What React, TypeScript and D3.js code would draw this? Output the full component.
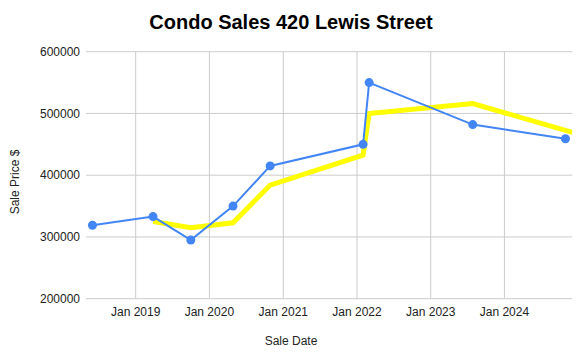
import React from "react";
import * as d3 from "d3";

const saleDates = ["2018-06-01", "2019-03-28", "2019-10-01", "2020-04-27", "2020-10-28", "2022-01-31", "2022-03-02", "2023-07-28", "2024-10-29"];
const salePrices = [319000, 333000, 295000, 350000, 415000, 450000, 550000, 482000, 459000];
const trendDates = ["2019-03-28", "2019-10-01", "2020-04-27", "2020-10-28", "2022-01-31", "2022-03-02", "2023-07-28", "2024-12-02"];
const trendValues = [325000, 315000, 323000, 384000, 432500, 500000, 516000, 469500];
const yTicks = [200000, 300000, 400000, 500000, 600000];
const xTickDates = ["2019-01-01", "2020-01-01", "2021-01-01", "2022-01-01", "2023-01-01", "2024-01-01"];
const xTickLabels = ["Jan 2019", "Jan 2020", "Jan 2021", "Jan 2022", "Jan 2023", "Jan 2024"];
const xDomain = ["2018-04-30", "2024-12-02"];
const yDomain = [200000, 600000];

const W = 586, H = 355;
const L = 86, R = 572.3, T = 51.7, B = 298.7;
const FONT = "Arial, 'Liberation Sans', sans-serif";

export default function App() {
  const parse = (s: string) => new Date(s + "T00:00:00Z");
  const x = d3.scaleUtc().domain(xDomain.map(parse)).range([L, R]);
  const y = d3.scaleLinear().domain(yDomain).range([B, T]);

  const pts = saleDates.map((d, i) => ({ x: x(parse(d)), y: y(salePrices[i]) }));
  const tpts = trendDates.map((d, i) => ({ x: x(parse(d)), y: y(trendValues[i]) }));
  const line = d3.line<{ x: number; y: number }>().x(p => p.x).y(p => p.y);

  return (
    <svg width={W} height={H} style={{ position: "absolute", left: 0, top: 0, background: "#fff" }} fontFamily={FONT}>
      <defs>
        <clipPath id="plot">
          <rect x={L} y={T - 10} width={R - L} height={B - T + 20} />
        </clipPath>
      </defs>
      <text x={291} y={29} textAnchor="middle" fontSize={20} fontWeight="bold" fill="#000">Condo Sales 420 Lewis Street</text>
      {yTicks.map(v => (
        <g key={v}>
          <line x1={L} x2={R} y1={y(v)} y2={y(v)} stroke="#cccccc" strokeWidth={1} />
          <text x={80} y={y(v)} dy="0.35em" textAnchor="end" fontSize={12} fill="#222">{v}</text>
        </g>
      ))}
      {xTickDates.map((d, i) => (
        <g key={d}>
          <line x1={x(parse(d))} x2={x(parse(d))} y1={T} y2={B} stroke="#cccccc" strokeWidth={1} />
          <text x={x(parse(d))} y={316} textAnchor="middle" fontSize={12} fill="#222">{xTickLabels[i]}</text>
        </g>
      ))}
      <text x={291} y={345} textAnchor="middle" fontSize={12} fill="#222">Sale Date</text>
      <text transform={`translate(18.5,182) rotate(-90)`} textAnchor="middle" fontSize={12} fill="#222">Sale Price $</text>
      <g clipPath="url(#plot)">
        <path d={line(tpts) || ""} fill="none" stroke="#ffff00" strokeWidth={5} strokeLinejoin="miter" />
        <path d={line(pts) || ""} fill="none" stroke="#4285f4" strokeWidth={2} />
        {pts.map((p, i) => (
          <circle key={i} cx={p.x} cy={p.y} r={4.5} fill="#4285f4" />
        ))}
      </g>
    </svg>
  );
}
